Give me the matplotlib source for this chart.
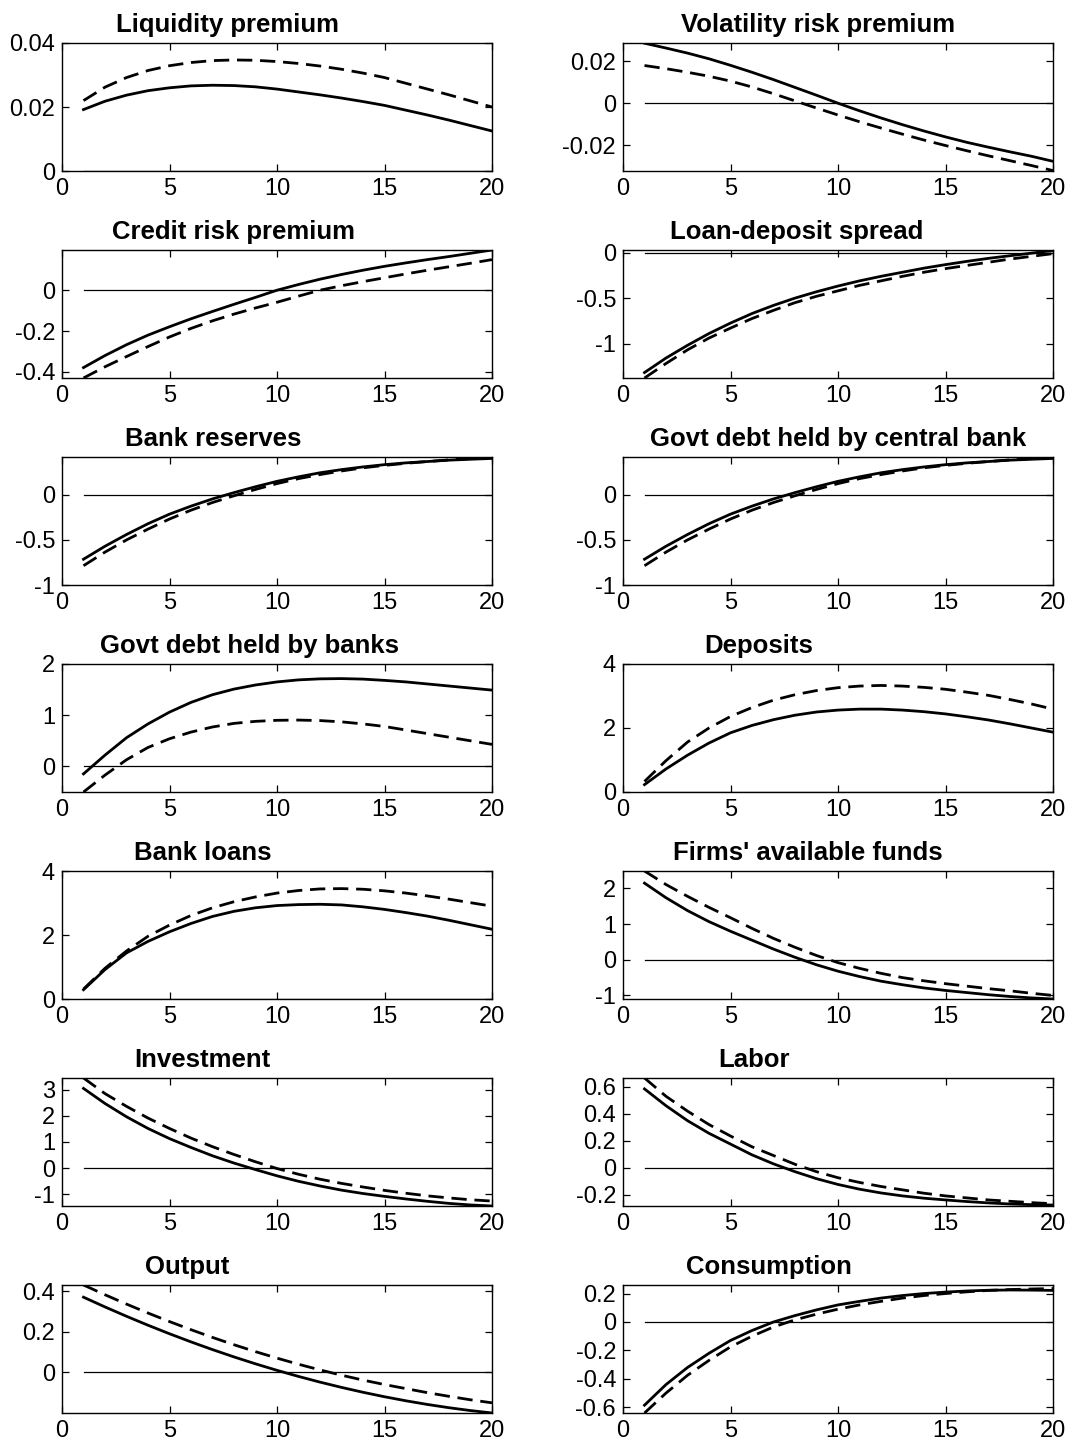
import numpy as np
import matplotlib
matplotlib.use('Agg')
from matplotlib import pyplot as plt
from matplotlib.ticker import FuncFormatter

plt.rcParams['font.family'] = ['Liberation Sans', 'DejaVu Sans']
plt.rcParams['axes.unicode_minus'] = False

# horizon
periods = list(range(1, 21))

titles = ['Liquidity premium', 'Volatility risk premium',
          'Credit risk premium', 'Loan-deposit spread',
          'Bank reserves', 'Govt debt held by central bank',
          'Govt debt held by banks', 'Deposits',
          'Bank loans', "Firms' available funds",
          'Investment', 'Labor',
          'Output', 'Consumption']

# solid = baseline, dashed = alternative
liq_a = [0.0192, 0.0218, 0.0237, 0.0251, 0.0260, 0.0266, 0.0268, 0.0267, 0.0263, 0.0256,
         0.0247, 0.0238, 0.0228, 0.0217, 0.0205, 0.0190, 0.0175, 0.0159, 0.0142, 0.0125]
liq_b = [0.0220, 0.0262, 0.0292, 0.0314, 0.0329, 0.0339, 0.0345, 0.0347, 0.0346, 0.0342,
         0.0336, 0.0328, 0.0318, 0.0306, 0.0292, 0.0274, 0.0256, 0.0238, 0.0219, 0.0200]

vol_a = [0.0285, 0.0262, 0.0238, 0.0211, 0.0180, 0.0147, 0.0112, 0.0075, 0.0038, 0.0000,
         -0.0036, -0.0070, -0.0102, -0.0132, -0.0160, -0.0186, -0.0209, -0.0231, -0.0252, -0.0276]
vol_b = [0.0179, 0.0164, 0.0147, 0.0128, 0.0105, 0.0077, 0.0045, 0.0011, -0.0023, -0.0056,
         -0.0088, -0.0118, -0.0147, -0.0175, -0.0201, -0.0226, -0.0250, -0.0273, -0.0296, -0.0320]

crp_a = [-0.379, -0.320, -0.267, -0.220, -0.179, -0.140, -0.104, -0.069, -0.035, 0.000,
         0.028, 0.054, 0.077, 0.098, 0.117, 0.134, 0.150, 0.165, 0.181, 0.197]
crp_b = [-0.430, -0.375, -0.325, -0.276, -0.229, -0.187, -0.150, -0.117, -0.087, -0.059,
         -0.029, 0.000, 0.022, 0.042, 0.061, 0.080, 0.098, 0.115, 0.132, 0.150]

lds_a = [-1.32, -1.16, -1.02, -0.89, -0.775, -0.67, -0.58, -0.50, -0.43, -0.367,
         -0.31, -0.26, -0.215, -0.17, -0.131, -0.095, -0.062, -0.033, -0.005, 0.025]
lds_b = [-1.38, -1.22, -1.07, -0.94, -0.83, -0.725, -0.635, -0.55, -0.48, -0.42,
         -0.36, -0.31, -0.26, -0.215, -0.175, -0.14, -0.105, -0.07, -0.04, -0.01]

res_a = [-0.714, -0.57, -0.44, -0.32, -0.214, -0.125, -0.045, 0.025, 0.09, 0.15,
         0.20, 0.245, 0.28, 0.31, 0.335, 0.355, 0.37, 0.385, 0.395, 0.404]
res_b = [-0.786, -0.635, -0.50, -0.38, -0.268, -0.17, -0.085, -0.01, 0.06, 0.125,
         0.18, 0.225, 0.265, 0.30, 0.327, 0.35, 0.37, 0.388, 0.403, 0.418]

gcb_a = [-0.714, -0.57, -0.44, -0.32, -0.214, -0.125, -0.045, 0.025, 0.09, 0.15,
         0.20, 0.245, 0.28, 0.31, 0.335, 0.355, 0.37, 0.385, 0.395, 0.404]
gcb_b = [-0.786, -0.635, -0.50, -0.38, -0.268, -0.17, -0.085, -0.01, 0.06, 0.125,
         0.18, 0.225, 0.265, 0.30, 0.327, 0.35, 0.37, 0.388, 0.403, 0.418]

gdb_a = [-0.146, 0.22, 0.56, 0.83, 1.06, 1.25, 1.40, 1.51, 1.59, 1.65,
         1.69, 1.71, 1.715, 1.705, 1.68, 1.65, 1.61, 1.57, 1.53, 1.49]
gdb_b = [-0.50, -0.17, 0.13, 0.37, 0.54, 0.67, 0.77, 0.84, 0.88, 0.90,
         0.905, 0.895, 0.87, 0.83, 0.78, 0.71, 0.64, 0.57, 0.50, 0.43]

dep_a = [0.23, 0.72, 1.15, 1.53, 1.85, 2.08, 2.26, 2.40, 2.50, 2.56,
         2.59, 2.59, 2.56, 2.51, 2.44, 2.35, 2.25, 2.13, 2.00, 1.87]
dep_b = [0.33, 0.98, 1.56, 2.00, 2.36, 2.64, 2.87, 3.04, 3.17, 3.26,
         3.31, 3.33, 3.31, 3.27, 3.21, 3.12, 3.02, 2.89, 2.75, 2.59]

loan_a = [0.29, 0.92, 1.44, 1.80, 2.10, 2.36, 2.58, 2.74, 2.85, 2.92,
          2.95, 2.96, 2.94, 2.88, 2.80, 2.70, 2.59, 2.46, 2.32, 2.18]
loan_b = [0.31, 0.96, 1.50, 1.96, 2.31, 2.61, 2.85, 3.04, 3.19, 3.31,
          3.39, 3.44, 3.45, 3.43, 3.38, 3.31, 3.22, 3.12, 3.01, 2.90]

fund_a = [2.15, 1.74, 1.38, 1.07, 0.80, 0.55, 0.30, 0.07, -0.14, -0.32,
          -0.47, -0.60, -0.70, -0.79, -0.86, -0.92, -0.98, -1.03, -1.07, -1.10]
fund_b = [2.49, 2.11, 1.78, 1.47, 1.18, 0.88, 0.60, 0.35, 0.12, -0.08,
          -0.24, -0.38, -0.50, -0.59, -0.67, -0.74, -0.81, -0.87, -0.94, -1.00]

inv_a = [3.06, 2.48, 1.97, 1.52, 1.13, 0.79, 0.47, 0.19, -0.06, -0.30,
         -0.51, -0.69, -0.85, -0.98, -1.09, -1.19, -1.28, -1.36, -1.42, -1.46]
inv_b = [3.46, 2.86, 2.37, 1.92, 1.52, 1.15, 0.82, 0.52, 0.24, -0.02,
         -0.24, -0.43, -0.59, -0.73, -0.86, -0.97, -1.07, -1.15, -1.22, -1.27]

lab_a = [0.585, 0.46, 0.349, 0.255, 0.175, 0.095, 0.028, -0.03, -0.082, -0.125,
         -0.16, -0.188, -0.21, -0.227, -0.24, -0.252, -0.262, -0.27, -0.275, -0.278]
lab_b = [0.666, 0.53, 0.42, 0.32, 0.235, 0.155, 0.09, 0.025, -0.03, -0.075,
         -0.11, -0.14, -0.165, -0.19, -0.21, -0.225, -0.24, -0.25, -0.26, -0.268]

out_a = [0.370, 0.322, 0.276, 0.232, 0.190, 0.150, 0.112, 0.076, 0.042, 0.010,
         -0.020, -0.048, -0.074, -0.098, -0.120, -0.140, -0.158, -0.174, -0.188, -0.200]
out_b = [0.430, 0.382, 0.336, 0.292, 0.250, 0.210, 0.172, 0.136, 0.102, 0.070,
         0.040, 0.012, -0.014, -0.038, -0.060, -0.080, -0.100, -0.118, -0.135, -0.150]

con_a = [-0.585, -0.44, -0.32, -0.22, -0.13, -0.06, 0.0, 0.045, 0.085, 0.12,
         0.145, 0.168, 0.186, 0.20, 0.21, 0.218, 0.223, 0.225, 0.224, 0.222]
con_b = [-0.64, -0.50, -0.375, -0.27, -0.175, -0.10, -0.035, 0.015, 0.055, 0.09,
         0.12, 0.145, 0.168, 0.186, 0.20, 0.212, 0.222, 0.228, 0.232, 0.235]

solid = [liq_a, vol_a, crp_a, lds_a, res_a, gcb_a, gdb_a, dep_a, loan_a, fund_a, inv_a, lab_a, out_a, con_a]
dashed = [liq_b, vol_b, crp_b, lds_b, res_b, gcb_b, gdb_b, dep_b, loan_b, fund_b, inv_b, lab_b, out_b, con_b]

ylims = [(0, 0.04), (-0.0322, 0.0286), (-0.43, 0.197), (-1.38, 0.03),
         (-1, 0.42), (-1, 0.42), (-0.5, 2), (0, 4), (0, 4), (-1.1, 2.49),
         (-1.46, 3.46), (-0.285, 0.666), (-0.2, 0.43), (-0.64, 0.26)]
yticks = [[0, 0.02, 0.04], [-0.02, 0, 0.02], [-0.4, -0.2, 0], [-1, -0.5, 0],
          [-1, -0.5, 0], [-1, -0.5, 0], [0, 1, 2], [0, 2, 4], [0, 2, 4], [-1, 0, 1, 2],
          [-1, 0, 1, 2, 3], [-0.2, 0, 0.2, 0.4, 0.6], [0, 0.2, 0.4], [-0.6, -0.4, -0.2, 0, 0.2]]
# title centre as fraction of axes width (titles are not centred in original)
title_x = [0.386, 0.453, 0.40, 0.405, 0.351, 0.50, 0.435, 0.316, 0.328, 0.43, 0.326, 0.305, 0.29, 0.34]

W, H = 1070, 1443
fig = plt.figure(figsize=(W / 100, H / 100), dpi=100)

fmt = FuncFormatter(lambda v, p: '%g' % round(v, 4))

for i in range(14):
    r, c = divmod(i, 2)
    left = 62 if c == 0 else 623
    bottom = 171 + 207 * r
    ax = fig.add_axes([left / W, 1 - bottom / H, 430 / W, 128 / H])
    ax.plot(periods, np.zeros(len(periods)), color='k', lw=0.9)
    ax.plot(periods, solid[i], color='k', lw=2.0)
    ax.plot(periods, dashed[i], color='k', lw=2.0, dashes=(5.5, 2.8))
    ax.set_xlim(0, 20)
    ax.set_ylim(*ylims[i])
    ax.set_xticks([0, 5, 10, 15, 20])
    ax.set_yticks(yticks[i])
    ax.yaxis.set_major_formatter(fmt)
    ax.tick_params(direction='in', top=True, right=True, length=5, width=0.9,
                   labelsize=17, pad=5)
    for s in ax.spines.values():
        s.set_linewidth(1.0)
    ax.set_title(titles[i], x=title_x[i], fontsize=18.5, fontweight='bold', pad=8)

fig.savefig('out.png', dpi=100)
